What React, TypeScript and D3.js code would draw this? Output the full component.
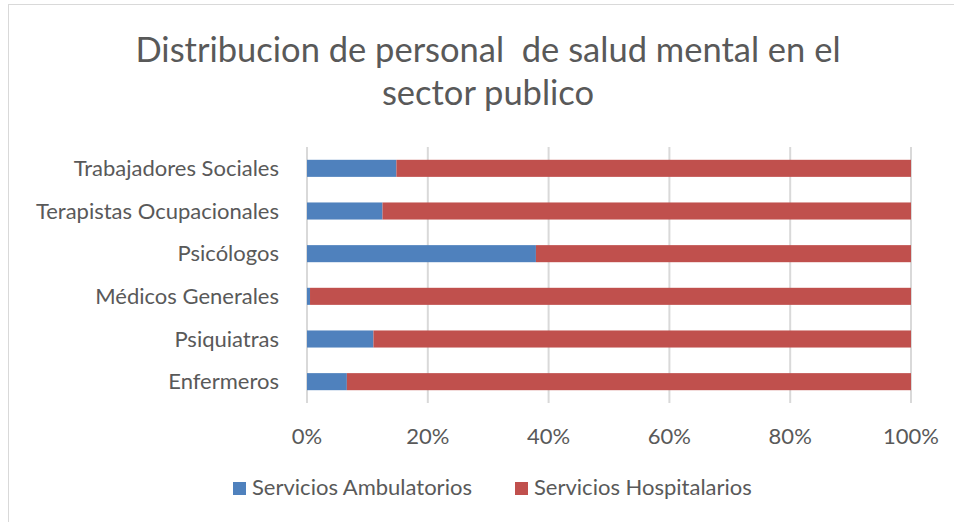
import React from "react";
import * as d3 from "d3";

const categories = [
  "Trabajadores Sociales",
  "Terapistas Ocupacionales",
  "Psicólogos",
  "Médicos Generales",
  "Psiquiatras",
  "Enfermeros",
];
const ambulatorios = [14.8, 12.5, 37.9, 0.5, 11.0, 6.6];
const hospitalarios = [85.2, 87.5, 62.1, 99.5, 89.0, 93.4];
const seriesNames = ["Servicios Ambulatorios", "Servicios Hospitalarios"];
const seriesColors = ["#4f81bd", "#c0504d"];
const xTicks = [0, 0.2, 0.4, 0.6, 0.8, 1];
const titleLines = ["Distribucion de personal  de salud mental en el", "sector publico"];

const W = 954;
const H = 522;
const FONT = "Lato, 'Open Sans', sans-serif";
const TEXT = "#595959";

export default function App() {
  const x = d3.scaleLinear().domain([0, 1]).range([307, 911]);
  const y = d3
    .scaleBand<string>()
    .domain(categories)
    .range([147, 403])
    .paddingInner(0.6)
    .paddingOuter(0.3);

  const rows = categories.map((c, i) => {
    const total = ambulatorios[i] + hospitalarios[i];
    return { c, a: ambulatorios[i] / total, h: hospitalarios[i] / total };
  });
  const stack = d3.stack<any>().keys(["a", "h"])(rows as any);
  const fmt = d3.format(".0%");

  return (
    <svg
      width={W}
      height={H}
      style={{ position: "absolute", left: 0, top: 0, background: "#fff" }}
      fontFamily={FONT}
    >
      <rect x={8.5} y={4.5} width={W} height={H} fill="#fff" stroke="#d9d9d9" strokeWidth={1} />
      {titleLines.map((t, i) => (
        <text
          key={i}
          x={488}
          y={62 + i * 43}
          textAnchor="middle"
          fontSize={34.5}
          fill={TEXT}
          style={{ whiteSpace: "pre" }}
        >
          {t}
        </text>
      ))}
      {xTicks.map((t) => (
        <line
          key={t}
          x1={x(t)}
          x2={x(t)}
          y1={147}
          y2={403}
          stroke="#d9d9d9"
          strokeWidth={2}
        />
      ))}
      {stack.map((s, si) =>
        s.map((d, i) => (
          <rect
            key={si + "-" + i}
            x={x(d[0])}
            y={y(categories[i])}
            width={x(d[1]) - x(d[0])}
            height={y.bandwidth()}
            fill={seriesColors[si]}
          />
        ))
      )}
      {categories.map((c) => (
        <text
          key={c}
          x={279}
          y={(y(c) as number) + y.bandwidth() / 2}
          dy="0.35em"
          textAnchor="end"
          fontSize={22}
          fill={TEXT}
        >
          {c}
        </text>
      ))}
      {xTicks.map((t) => (
        <text key={t} x={x(t)} y={444} textAnchor="middle" fontSize={22} fill={TEXT}>
          {fmt(t)}
        </text>
      ))}
      {seriesNames.map((n, i) => {
        const lx = i === 0 ? 233 : 515;
        return (
          <g key={n}>
            <rect x={lx} y={482} width={13} height={13} fill={seriesColors[i]} />
            <text x={lx + 19} y={495} fontSize={22} fill={TEXT}>
              {n}
            </text>
          </g>
        );
      })}
    </svg>
  );
}
